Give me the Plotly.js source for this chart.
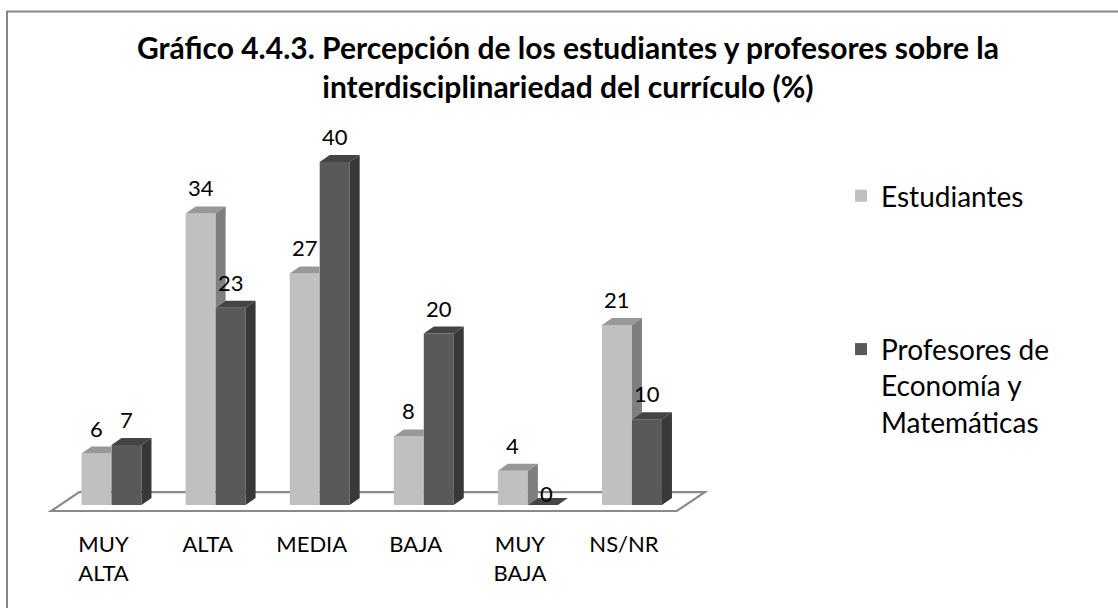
<!DOCTYPE html>
<html><head><meta charset="utf-8">
<script src="https://cdn.plot.ly/plotly-3.0.1.min.js"></script>
<style>html,body{margin:0;padding:0;background:#fff}#chart{width:1118px;height:608px}</style>
</head><body><div id="chart"></div>
<script>
// ---- data ----
const categories = ["MUY<br>ALTA", "ALTA", "MEDIA", "BAJA", "MUY<br>BAJA", "NS/NR"];
const seriesNames = ["Estudiantes", "Profesores de<br>Economía y<br>Matemáticas"];
const estudiantes = [6, 34, 27, 8, 4, 21];
const profesores = [7, 23, 40, 20, 0, 10];
const titleText = "Gráfico 4.4.3. Percepción de los estudiantes y profesores sobre la<br>interdisciplinariedad del currículo (%)";

// ---- style ----
const FONT = "Lato, 'Open Sans', sans-serif";
const BW = 0.288;   // bar width in category units
const DX = 0.096;   // 3D depth, x (category units)
const DY = 0.816;   // 3D depth, y (value units)
const lightCol = {front: "#c0c0c0", top: "#989898", side: "#7f7f7f"};
const darkCol = {front: "#595959", top: "#444444", side: "#383838"};

const idx = categories.map((c, i) => i);

function poly(pts) {
  return "M" + pts.map(p => p[0] + "," + p[1]).join(" L") + " Z";
}

const shapes = [];
// outer border
shapes.push({type: "rect", xref: "paper", yref: "paper", x0: 0, x1: 1.06, y0: 1.017, y1: -0.3,
  line: {color: "#878787", width: 2}, fillcolor: "rgba(0,0,0,0)", layer: "below"});
// floor
const fL = -0.58, fR = categories.length - 1 + 0.43, fY0 = -0.70, fDX = 0.27, fDY = 2.2;
shapes.push({type: "path", xref: "x", yref: "y", layer: "below",
  path: poly([[fL, fY0], [fR, fY0], [fR + fDX, fY0 + fDY], [fL + fDX, fY0 + fDY]]),
  fillcolor: "#ffffff", line: {color: "#8a8a8a", width: 2.2}});

idx.forEach(i => {
  const vL = estudiantes[i], vD = profesores[i];
  const x0L = i - BW, x1L = i, x0D = i, x1D = i + BW;
  // light top
  if (vD >= vL + DY) {
    shapes.push({type: "path", xref: "x", yref: "y", layer: "above", line: {width: 0},
      fillcolor: lightCol.top, path: poly([[x0L, vL], [x0L + DX, vL + DY], [x1L, vL + DY], [x1L, vL]])});
  } else {
    shapes.push({type: "path", xref: "x", yref: "y", layer: "above", line: {width: 0},
      fillcolor: lightCol.top, path: poly([[x0L, vL], [x0L + DX, vL + DY], [x1L + DX, vL + DY], [x1L, vL]])});
  }
  // visible part of light side
  if (vL > vD) {
    shapes.push({type: "path", xref: "x", yref: "y", layer: "above", line: {width: 0},
      fillcolor: lightCol.side, path: poly([[x1L, vD], [x1L, vL], [x1L + DX, vL + DY], [x1L + DX, vD + DY]])});
  }
  // dark top
  shapes.push({type: "path", xref: "x", yref: "y", layer: "above", line: {width: 0},
    fillcolor: darkCol.top, path: poly([[x0D, vD], [x0D + DX, vD + DY], [x1D + DX, vD + DY], [x1D, vD]])});
  // dark side
  shapes.push({type: "path", xref: "x", yref: "y", layer: "above", line: {width: 0},
    fillcolor: darkCol.side, path: poly([[x1D, 0], [x1D, vD], [x1D + DX, vD + DY], [x1D + DX, DY]])});
});

const annotations = [];
function addLabels(vals, off) {
  vals.forEach((v, i) => {
    annotations.push({x: i + off, y: v, xref: "x", yref: "y", text: String(v), showarrow: false,
      yanchor: "bottom", xanchor: "center", yshift: v > 0 ? 10 : -4, xshift: v > 0 ? 0 : 4,
      font: {family: FONT, size: 22, color: "#000"}});
  });
}
addLabels(estudiantes, -BW / 2);
addLabels(profesores, BW / 2);

const traces = [
  {type: "bar", name: seriesNames[0], x: idx, y: estudiantes, width: BW, offset: -BW,
   marker: {color: lightCol.front}, legendgroup: "a", hoverinfo: "skip"},
  {type: "bar", name: seriesNames[1], x: idx, y: profesores, width: BW, offset: 0,
   marker: {color: darkCol.front}, legendgroup: "b", hoverinfo: "skip"}
];

const layout = {
  width: 1118, height: 608,
  paper_bgcolor: "#ffffff", plot_bgcolor: "rgba(0,0,0,0)",
  margin: {l: 7, r: 0, t: 20, b: 88},
  barmode: "overlay",
  title: {text: titleText, x: 0.508, xanchor: "center", xref: "container",
    y: 0.903, yanchor: "top", yref: "container",
    font: {family: FONT, size: 30, weight: 700, color: "#000"}},
  xaxis: {type: "linear", range: [-1.004, 9.669], tickvals: idx, ticktext: categories,
    showgrid: false, zeroline: false, showline: false, ticks: "",
    ticklabelshift: -8, ticklabelstandoff: 9,
    tickfont: {family: FONT, size: 22, color: "#000"}, fixedrange: true},
  yaxis: {range: [-1.749, 56.56], visible: false, showgrid: false, zeroline: false, fixedrange: true},
  legend: {x: 0.7507, xanchor: "left", y: 0.698, yanchor: "top", valign: "top",
    traceorder: "grouped", tracegroupgap: 114,
    font: {family: FONT, size: 28, color: "#000"}, bgcolor: "rgba(0,0,0,0)"},
  shapes: shapes,
  annotations: annotations,
  showlegend: true
};

Plotly.newPlot("chart", traces, layout, {displayModeBar: false, staticPlot: true});
</script>
</body></html>
